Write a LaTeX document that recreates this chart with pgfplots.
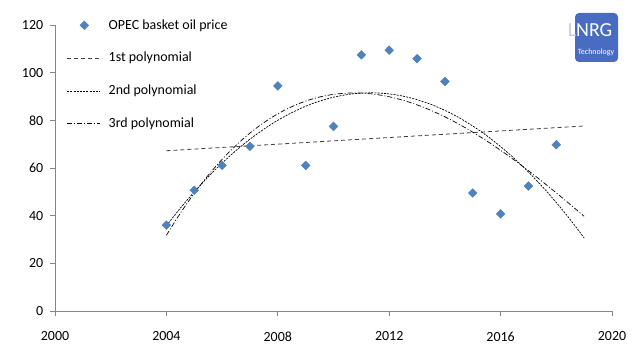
\documentclass[border=0pt]{standalone}
\usepackage{fontspec}
\setmainfont{Carlito}
\usepackage{pgfplots}
\pgfplotsset{compat=1.18}
\definecolor{mblue}{RGB}{79,129,189}
\definecolor{axgray}{RGB}{134,134,134}
\definecolor{logoblue}{RGB}{72,108,194}
\pgfplotsset{
  lineleg/.style={legend image code/.code={\draw[##1] (0bp,0bp) -- (33bp,0bp);}},
  markleg/.style={legend image code/.code={\draw[##1] plot coordinates {(17bp,0bp)};}},
}
\begin{document}
\fontsize{14}{16}\selectfont
\begin{tikzpicture}
\begin{axis}[
  scale only axis, width=557bp, height=286bp,
  xmin=2000, xmax=2020, ymin=0, ymax=120,
  axis x line=bottom, axis y line=left,
  axis line style={draw=axgray, line width=0.8bp, -},
  xtick={2000,2004,...,2020}, ytick={0,20,...,120},
  tick align=outside, major tick length=5bp,
  tick style={draw=axgray, line width=0.8bp},
  x tick label style={/pgf/number format/1000 sep={}, yshift=-11bp},
  y tick label style={xshift=-2bp},
  /pgf/number format/assume math mode=true,
  legend cell align=left,
  legend style={draw=none, fill=none, at={(rel axis cs:0.021,1.027)}, anchor=north west,
    font=\fontsize{14}{16}\selectfont, row sep=17bp, column sep=6bp, inner sep=0pt},
  clip=false,
]
\addplot[only marks, mark=square*, mark size=3.1bp, mark options={rotate=45, fill=mblue, draw=mblue}, markleg]
coordinates {
(2004,36.05) (2005,50.64) (2006,61.08) (2007,69.08) (2008,94.45)
(2009,61.06) (2010,77.45) (2011,107.46) (2012,109.45) (2013,105.87)
(2014,96.29) (2015,49.49) (2016,40.76) (2017,52.43) (2018,69.78)};
\addlegendentry{OPEC basket oil price}
\addplot[draw=black!75, line width=0.8bp, dash pattern=on 4bp off 3bp, lineleg]
coordinates {(2004,67.24) (2019,77.63)};
\addlegendentry{1st polynomial}
\addplot[draw=black, line width=0.7bp, dash pattern=on 2bp off 1.2bp, smooth, lineleg]
coordinates {
(2004,35.81) (2004.5,43.15) (2005,49.97) (2005.5,56.28) (2006,62.06) (2006.5,67.33)
(2007,72.08) (2007.5,76.31) (2008,80.03) (2008.5,83.22) (2009,85.90) (2009.5,88.06)
(2010,89.70) (2010.5,90.82) (2011,91.43) (2011.5,91.52) (2012,91.09) (2012.5,90.14)
(2013,88.67) (2013.5,86.69) (2014,84.18) (2014.5,81.16) (2015,77.62) (2015.5,73.57)
(2016,68.99) (2016.5,63.90) (2017,58.29) (2017.5,52.16) (2018,45.51) (2018.5,38.35)
(2019,30.66)};
\addlegendentry{2nd polynomial}
\addplot[draw=black, line width=0.7bp, dash pattern=on 5bp off 2bp on 1bp off 2bp, smooth, lineleg]
coordinates {
(2004,31.77) (2004.5,41.02) (2005,49.39) (2005.5,56.92) (2006,63.62) (2006.5,69.52)
(2007,74.66) (2007.5,79.05) (2008,82.74) (2008.5,85.73) (2009,88.08) (2009.5,89.79)
(2010,90.90) (2010.5,91.43) (2011,91.43) (2011.5,90.91) (2012,89.89) (2012.5,88.41)
(2013,86.49) (2013.5,84.18) (2014,81.47) (2014.5,78.42) (2015,75.04) (2015.5,71.38)
(2016,67.43) (2016.5,63.26) (2017,58.87) (2017.5,54.29) (2018,49.56) (2018.5,44.70)
(2019,39.73)};
\addlegendentry{3rd polynomial}
\coordinate (NE) at (rel axis cs:1,1);
\coordinate (SW) at (rel axis cs:0,0);
\end{axis}
\fill[logoblue, rounded corners=4bp] ([shift={(-37bp,12bp)}]NE) rectangle ([shift={(6bp,-37bp)}]NE);
\node[inner sep=0pt, font=\fontsize{20}{20}\selectfont] at ([shift={(-22bp,-5bp)}]NE) {\textcolor{logoblue!35}{L}\textcolor{white}{NRG}};
\node[inner sep=0pt, text=white, font=\fontsize{8}{8}\selectfont] at ([shift={(-16bp,-27bp)}]NE) {Technology};
\pgfresetboundingbox
\path[use as bounding box] ([shift={(-55bp,-49bp)}]SW) rectangle ([shift={(28bp,25bp)}]NE);
\end{tikzpicture}
\end{document}
